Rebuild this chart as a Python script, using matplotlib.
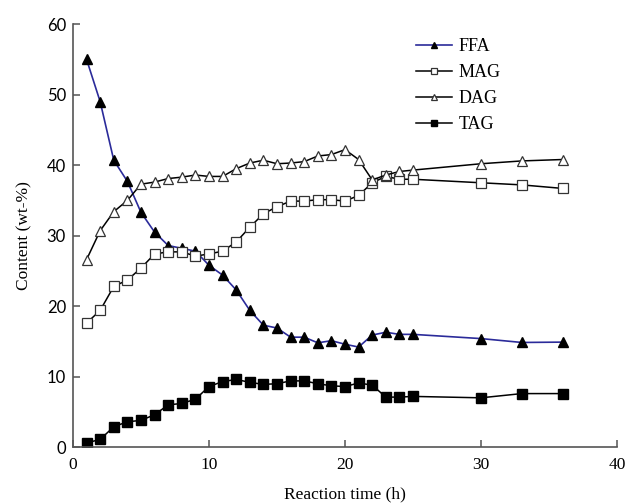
import matplotlib
matplotlib.use("Agg")
import matplotlib.pyplot as plt

time_h = [1, 2, 3, 4, 5, 6, 7, 8, 9, 10, 11, 12, 13, 14, 15, 16, 17, 18, 19, 20,
          21, 22, 23, 24, 25, 30, 33, 36]
ffa = [55.0, 49.0, 40.7, 37.7, 33.3, 30.5, 28.6, 28.2, 27.8, 25.8, 24.4, 22.3, 19.4,
       17.3, 16.9, 15.6, 15.6, 14.8, 15.1, 14.6, 14.2, 15.9, 16.3, 16.0, 16.0, 15.4, 14.85, 14.9]
mag = [17.6, 19.4, 22.8, 23.7, 25.4, 27.4, 27.7, 27.7, 27.1, 27.4, 27.8, 29.1, 31.2,
       33.1, 34.1, 34.9, 34.9, 35.1, 35.1, 34.9, 35.7, 37.5, 38.4, 38.0, 38.0, 37.5, 37.2, 36.7]
dag = [26.6, 30.7, 33.4, 35.0, 37.3, 37.6, 38.1, 38.3, 38.6, 38.4, 38.4, 39.5, 40.3,
       40.7, 40.2, 40.3, 40.5, 41.3, 41.5, 42.2, 40.8, 37.9, 38.6, 39.1, 39.3, 40.2, 40.6, 40.8]
tag = [0.6, 1.1, 2.9, 3.6, 3.8, 4.6, 6.0, 6.2, 6.8, 8.6, 9.3, 9.6, 9.2, 8.9, 9.0, 9.4,
       9.4, 9.0, 8.7, 8.6, 9.1, 8.8, 7.1, 7.1, 7.2, 7.0, 7.6, 7.6]

serif = ["Liberation Serif", "DejaVu Serif"]
sans = ["Lato", "DejaVu Sans"]

fig = plt.figure(figsize=(6.29, 5.03), dpi=100)
ax = fig.add_axes([0.116, 0.111, 0.865, 0.841])

ax.plot(time_h, ffa, color="#2b2b9a", lw=1.2, marker="^", ms=6.5,
        mfc="black", mec="black", label="FFA")
ax.plot(time_h, mag, color="black", lw=1.1, marker="s", ms=6.5,
        mfc="white", mec="#333333", mew=0.9, label="MAG")
ax.plot(time_h, dag, color="black", lw=1.1, marker="^", ms=6.5,
        mfc="white", mec="#333333", mew=0.9, label="DAG")
ax.plot(time_h, tag, color="black", lw=1.1, marker="s", ms=6.5,
        mfc="black", mec="black", label="TAG")

ax.set_xlim(0, 40)
ax.set_ylim(0, 60)
ax.set_xticks([0, 10, 20, 30, 40])
ax.set_yticks([0, 10, 20, 30, 40, 50, 60])
for s in ["top", "right"]:
    ax.spines[s].set_visible(False)
for s in ["left", "bottom"]:
    ax.spines[s].set_color("#555555")
    ax.spines[s].set_linewidth(1.2)
ax.tick_params(direction="in", length=5, width=1.1, color="#555555")
ax.tick_params(axis="x", pad=7)
ax.tick_params(axis="y", pad=5)
for lab in ax.get_xticklabels():
    lab.set_fontfamily(serif)
    lab.set_fontsize(12.5)
for lab in ax.get_yticklabels():
    lab.set_fontfamily(sans)
    lab.set_fontsize(12)

ax.set_xlabel("Reaction time (h)", fontfamily=serif, fontsize=12.5, labelpad=10)
ax.set_ylabel("Content (wt-%)", fontfamily=serif, fontsize=12.5, labelpad=10)

leg = ax.legend(loc="upper left", bbox_to_anchor=(0.6, 1.005), frameon=False,
                prop={"family": serif, "size": 13}, handlelength=2.0,
                markerscale=0.65, labelspacing=0.5, handletextpad=0.4)

fig.savefig("out.png", dpi=100)
